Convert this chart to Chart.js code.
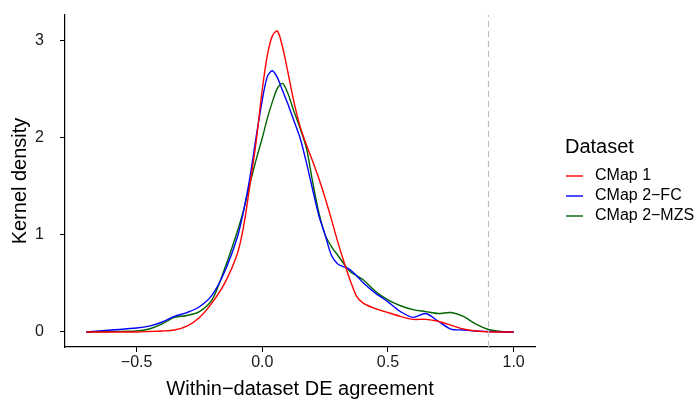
<!DOCTYPE html>
<html>
<head>
<meta charset="utf-8">
<script src="https://cdn.jsdelivr.net/npm/chart.js@4"></script>
<style>
  html, body { margin: 0; padding: 0; background: #fff; }
  #wrap { width: 700px; height: 399px; }
</style>
</head>
<body>
<div id="wrap"><canvas id="myChart" width="700" height="399"></canvas></div>
<script>
/* global Chart */

// within-dataset DE agreement (x grid) and kernel density per dataset
const agreement = [-0.7, -0.6, -0.5, -0.45, -0.4, -0.35, -0.3, -0.25, -0.2, -0.15, -0.1, -0.075, -0.05, -0.025,
  0, 0.02, 0.04, 0.06, 0.08, 0.1, 0.125, 0.15, 0.175, 0.2, 0.225, 0.25, 0.275, 0.3, 0.325, 0.35, 0.375, 0.4,
  0.45, 0.5, 0.55, 0.6, 0.65, 0.7, 0.75, 0.8, 0.85, 0.9, 0.95, 1.0];

const cmap1 = [0, 0, 0, 0.005, 0.01, 0.02, 0.06, 0.15, 0.3, 0.5, 0.8, 1.08, 1.5, 1.95,
  2.5, 2.85, 3.05, 3.1, 2.94, 2.7, 2.38, 2.12, 1.93, 1.76, 1.58, 1.38, 1.16, 0.93, 0.72, 0.53, 0.37, 0.3,
  0.24, 0.2, 0.16, 0.13, 0.13, 0.11, 0.07, 0.03, 0.01, 0, 0, 0];

const cmap2fc = [0, 0.02, 0.04, 0.06, 0.1, 0.16, 0.2, 0.26, 0.38, 0.62, 0.97, 1.24, 1.58, 2.0,
  2.39, 2.63, 2.69, 2.62, 2.49, 2.36, 2.18, 2.0, 1.75, 1.47, 1.2, 1.0, 0.79, 0.7, 0.67, 0.64, 0.58, 0.51,
  0.4, 0.31, 0.21, 0.15, 0.19, 0.11, 0.03, 0.02, 0.01, 0.005, 0, 0];

const cmap2mzs = [0, 0.005, 0.01, 0.03, 0.08, 0.15, 0.17, 0.21, 0.33, 0.65, 1.03, 1.25, 1.52, 1.77,
  2.0, 2.2, 2.37, 2.51, 2.56, 2.47, 2.28, 2.1, 1.9, 1.55, 1.23, 1.0, 0.88, 0.79, 0.7, 0.62, 0.58, 0.54,
  0.42, 0.33, 0.27, 0.23, 0.21, 0.19, 0.2, 0.16, 0.08, 0.025, 0.005, 0];

const seriesNames = ['CMap 1', 'CMap 2\u2212FC', 'CMap 2\u2212MZS'];
const seriesColors = ['#FF0000', '#0000FF', '#006400'];

const xTicks = [-0.5, 0, 0.5, 1.0];
const yTicks = [0, 1, 2, 3];
const xRange = [-0.785, 1.085];
const yRange = [-0.155, 3.265];
const cutoff = 0.9; // dashed reference line

const fontFamily = '"Liberation Sans", Arial, Helvetica, sans-serif';

function pts(ys) {
  return agreement.map(function (x, i) { return { x: x, y: ys[i] }; });
}

function fmt(v) {
  return String(v).indexOf('-') === 0 ? '\u2212' + Math.abs(v).toFixed(1) : v.toFixed(1);
}

// hand drawn legend to match the ggplot look
const legendPlugin = {
  id: 'sideLegend',
  afterDraw: function (chart) {
    const ctx = chart.ctx;
    ctx.save();
    ctx.fillStyle = '#000';
    ctx.textBaseline = 'middle';
    ctx.textAlign = 'left';
    ctx.font = '20px ' + fontFamily;
    ctx.fillText('Dataset', 565, 147);
    ctx.font = '16px ' + fontFamily;
    seriesNames.forEach(function (name, i) {
      const y = 176 + i * 20;
      ctx.strokeStyle = seriesColors[i];
      ctx.lineWidth = 1.4;
      ctx.beginPath();
      ctx.moveTo(566, y);
      ctx.lineTo(583, y);
      ctx.stroke();
      ctx.fillText(name, 595, y);
    });
    ctx.restore();
  }
};

function curve(i, ys) {
  return {
    label: seriesNames[i],
    data: pts(ys),
    borderColor: seriesColors[i],
    borderWidth: 1.4,
    pointRadius: 0,
    tension: 0.3
  };
}

const ctx = document.getElementById('myChart').getContext('2d');
const myChart = new Chart(ctx, {
  type: 'line',
  data: {
    datasets: [
      {
        label: 'cutoff',
        data: [{ x: cutoff, y: yRange[0] }, { x: cutoff, y: yRange[1] }],
        borderColor: '#BEBEBE',
        borderWidth: 1.2,
        borderDash: [6, 4],
        pointRadius: 0
      },
      curve(0, cmap1),
      curve(1, cmap2fc),
      curve(2, cmap2mzs)
    ]
  },
  options: {
    responsive: false,
    animation: false,
    layout: { padding: { left: 0, right: 165, top: 15, bottom: 0 } },
    plugins: {
      legend: { display: false },
      tooltip: { enabled: false }
    },
    scales: {
      x: {
        type: 'linear',
        min: xRange[0],
        max: xRange[1],
        afterBuildTicks: function (scale) {
          scale.ticks = xTicks.map(function (v) { return { value: v }; });
        },
        afterFit: function (scale) {
          scale.height = 52;
          scale.paddingLeft = 0;
          scale.paddingRight = 0;
        },
        grid: { drawOnChartArea: false, drawTicks: true, tickLength: 5, color: '#000' },
        border: { display: true, color: '#000', width: 1.2 },
        ticks: {
          autoSkip: false,
          maxRotation: 0,
          padding: 1,
          color: '#1a1a1a',
          font: { family: fontFamily, size: 16 },
          callback: function (v) { return fmt(v); }
        },
        title: {
          display: true,
          text: 'Within\u2212dataset DE agreement',
          color: '#000',
          font: { family: fontFamily, size: 20 },
          padding: { top: 0, bottom: -2 }
        }
      },
      y: {
        type: 'linear',
        min: yRange[0],
        max: yRange[1],
        afterBuildTicks: function (scale) {
          scale.ticks = yTicks.map(function (v) { return { value: v }; });
        },
        afterFit: function (scale) {
          scale.width = 65;
          scale.paddingTop = 0;
          scale.paddingBottom = 0;
        },
        grid: { drawOnChartArea: false, drawTicks: true, tickLength: 5, color: '#000' },
        border: { display: true, color: '#000', width: 1.2 },
        ticks: {
          padding: 16,
          color: '#1a1a1a',
          font: { family: fontFamily, size: 16 },
          callback: function (v) { return String(v); }
        },
        title: {
          display: true,
          text: 'Kernel density',
          color: '#000',
          font: { family: fontFamily, size: 20 },
          padding: { top: 8, bottom: 0 }
        }
      }
    }
  },
  plugins: [legendPlugin]
});
</script>
</body>
</html>
